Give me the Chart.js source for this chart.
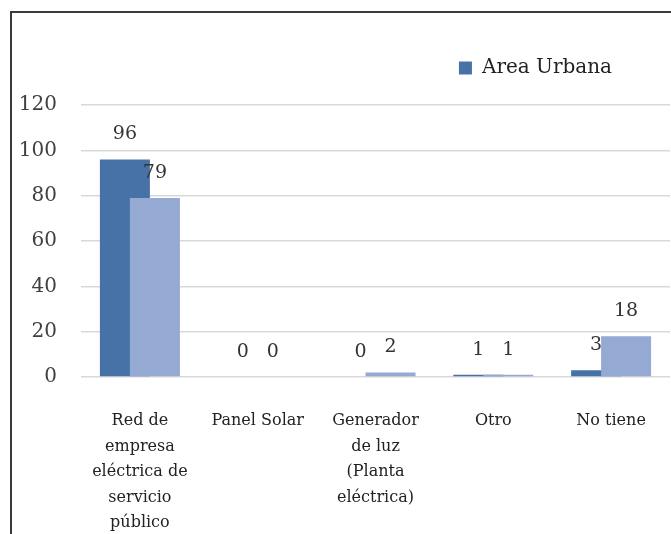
<!DOCTYPE html>
<html>
<head>
<meta charset="utf-8">
<script src="https://cdn.jsdelivr.net/npm/chart.js@4"></script>
<style>
  body { margin: 0; background: #fff; }
  #wrap { position: relative; width: 671px; height: 534px; overflow: hidden; }
  #marco {
    position: absolute; left: 10px; top: 11px; width: 800px; height: 800px;
    border-top: 2px solid #3a3a3a; border-left: 2px solid #3a3a3a;
    pointer-events: none;
  }
</style>
</head>
<body>
<div id="wrap">
  <canvas id="graficoEnergia" width="671" height="534"></canvas>
  <div id="marco"></div>
</div>
<script>
const categorias = [
  ['Red de', 'empresa', 'eléctrica de', 'servicio', 'público'],
  'Panel Solar',
  ['Generador', 'de luz', '(Planta', 'eléctrica)'],
  'Otro',
  'No tiene'
];
const areaUrbana = [96, 0, 0, 1, 3];
const areaRural = [79, 0, 2, 1, 18];
const ticksY = [0, 20, 40, 60, 80, 100, 120];

const fuente = 'DejaVu Serif';

// separa la leyenda del área del gráfico
const espacioLeyenda = {
  id: 'espacioLeyenda',
  beforeInit(chart) {
    const fit = chart.legend.fit;
    chart.legend.fit = function () {
      fit.bind(chart.legend)();
      this.height += 17;
    };
  }
};

// valores encima de cada barra
const etiquetasValor = {
  id: 'etiquetasValor',
  afterDatasetsDraw(chart) {
    const ctx = chart.ctx;
    ctx.save();
    ctx.font = '19px "' + fuente + '"';
    ctx.fillStyle = '#333333';
    ctx.textAlign = 'center';
    ctx.textBaseline = 'middle';
    [1, 2].forEach(i => {
      const meta = chart.getDatasetMeta(i);
      meta.data.forEach((barra, j) => {
        ctx.fillText(String(chart.data.datasets[i].data[j]), barra.x, barra.y - 25);
      });
    });
    ctx.restore();
  }
};

const ctx = document.getElementById('graficoEnergia');
new Chart(ctx, {
  type: 'bar',
  data: {
    labels: categorias,
    datasets: [
      // vacío, sólo sirve para que la serie clara quede a la derecha y dibujada encima
      { label: '', data: [], stack: 'a', order: 0 },
      {
        label: 'Area Urbana',
        data: areaUrbana,
        backgroundColor: '#4672a8',
        stack: 'a',
        order: 2
      },
      {
        label: 'Area Rural',
        data: areaRural,
        backgroundColor: '#95aad2',
        stack: 'b',
        order: 1
      }
    ]
  },
  options: {
    responsive: false,
    animation: false,
    layout: { padding: { top: 0, left: 0, right: 1, bottom: 0 } },
    datasets: {
      bar: { categoryPercentage: 0.5093, barPercentage: 1.6667 }
    },
    scales: {
      x: {
        grid: { display: false },
        border: { display: false },
        ticks: {
          autoSkip: false,
          maxRotation: 0,
          padding: 23,
          color: '#222222',
          font: { family: fuente, size: 16, lineHeight: 1.6 }
        },
        afterFit(scale) { scale.height = 157; }
      },
      y: {
        min: 0,
        max: 120,
        afterBuildTicks(scale) { scale.ticks = ticksY.map(v => ({ value: v })); },
        grid: { color: '#d9d9d9', lineWidth: 1.5, drawTicks: false },
        border: { display: false },
        ticks: {
          padding: 24,
          color: '#404040',
          font: { family: fuente, size: 20 }
        },
        afterFit(scale) { scale.width = 81; }
      }
    },
    plugins: {
      tooltip: { enabled: false },
      legend: {
        position: 'top',
        align: 'end',
        labels: {
          filter: item => item.text === 'Area Urbana',
          boxWidth: 13,
          boxHeight: 13,
          padding: 58,
          color: '#222222',
          font: { family: fuente, size: 20 }
        }
      }
    }
  },
  plugins: [espacioLeyenda, etiquetasValor]
});
</script>
</body>
</html>
